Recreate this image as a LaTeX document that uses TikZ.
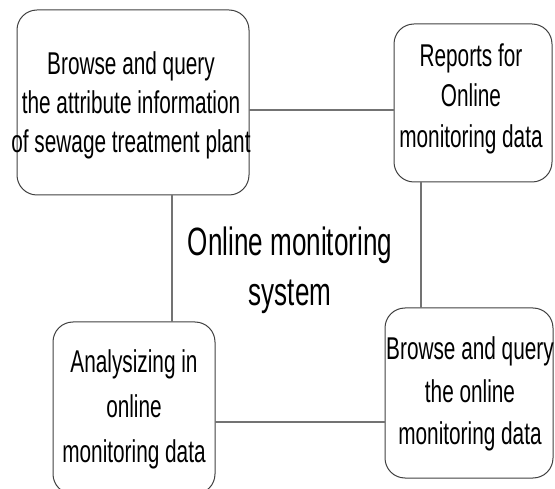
\documentclass[tikz,border=0pt]{standalone}
\usepackage{fontspec}
\setmainfont{Liberation Sans}[FakeStretch=0.66]
\begin{document}
\begin{tikzpicture}[x=1pt,y=-1pt,
  box/.style={draw=black!75, line width=1pt, rounded corners=20pt, inner sep=0pt, outer sep=0pt, rectangle},
  boxtext/.style={align=center, inner sep=0pt, outer sep=0pt},
  link/.style={draw=black!55, line width=1.6pt}]
\useasboundingbox (0,0) rectangle (555,489);
\clip (0,0) rectangle (555,489);
% boxes
\node[box, minimum width=232pt, minimum height=185pt] (tl) at (133,102.5) {};
\node[box, minimum width=158pt, minimum height=158pt] (tr) at (473,103) {};
\node[box, minimum width=162pt, minimum height=172pt] (bl) at (134,408) {};
\node[box, minimum width=168pt, minimum height=170pt] (br) at (469,393) {};
% texts
\node[boxtext, font={\fontsize{31.5}{39}\selectfont}] (tlt) at (131,105) {Browse and query\\the attribute information\\of sewage treatment plant};
\node[boxtext, font={\fontsize{31.5}{40.5}\selectfont}] (trt) at (471,98.5) {Reports for\\Online\\monitoring data};
\node[boxtext, font={\fontsize{31.5}{45}\selectfont}] (blt) at (134,409) {Analysizing in\\online\\monitoring data};
\node[boxtext, font={\fontsize{31.5}{42.5}\selectfont}] (brt) at (470,394.3) {Browse and query\\the online\\monitoring data};
\node[boxtext, font={\fontsize{39.5}{50}\selectfont}] (ctr) at (290,269.8) {Online monitoring\\system};
% connectors
\coordinate (h1) at (0,110);
\coordinate (h2) at (0,422);
\coordinate (v1) at (172,0);
\coordinate (v2) at (421,0);
\draw[link] (tl.east |- h1) -- (tr.west |- h1);
\draw[link] (tl.south -| v1) -- (bl.north -| v1);
\draw[link] (tr.south -| v2) -- (br.north -| v2);
\draw[link] (bl.east |- h2) -- (br.west |- h2);
\end{tikzpicture}
\end{document}
